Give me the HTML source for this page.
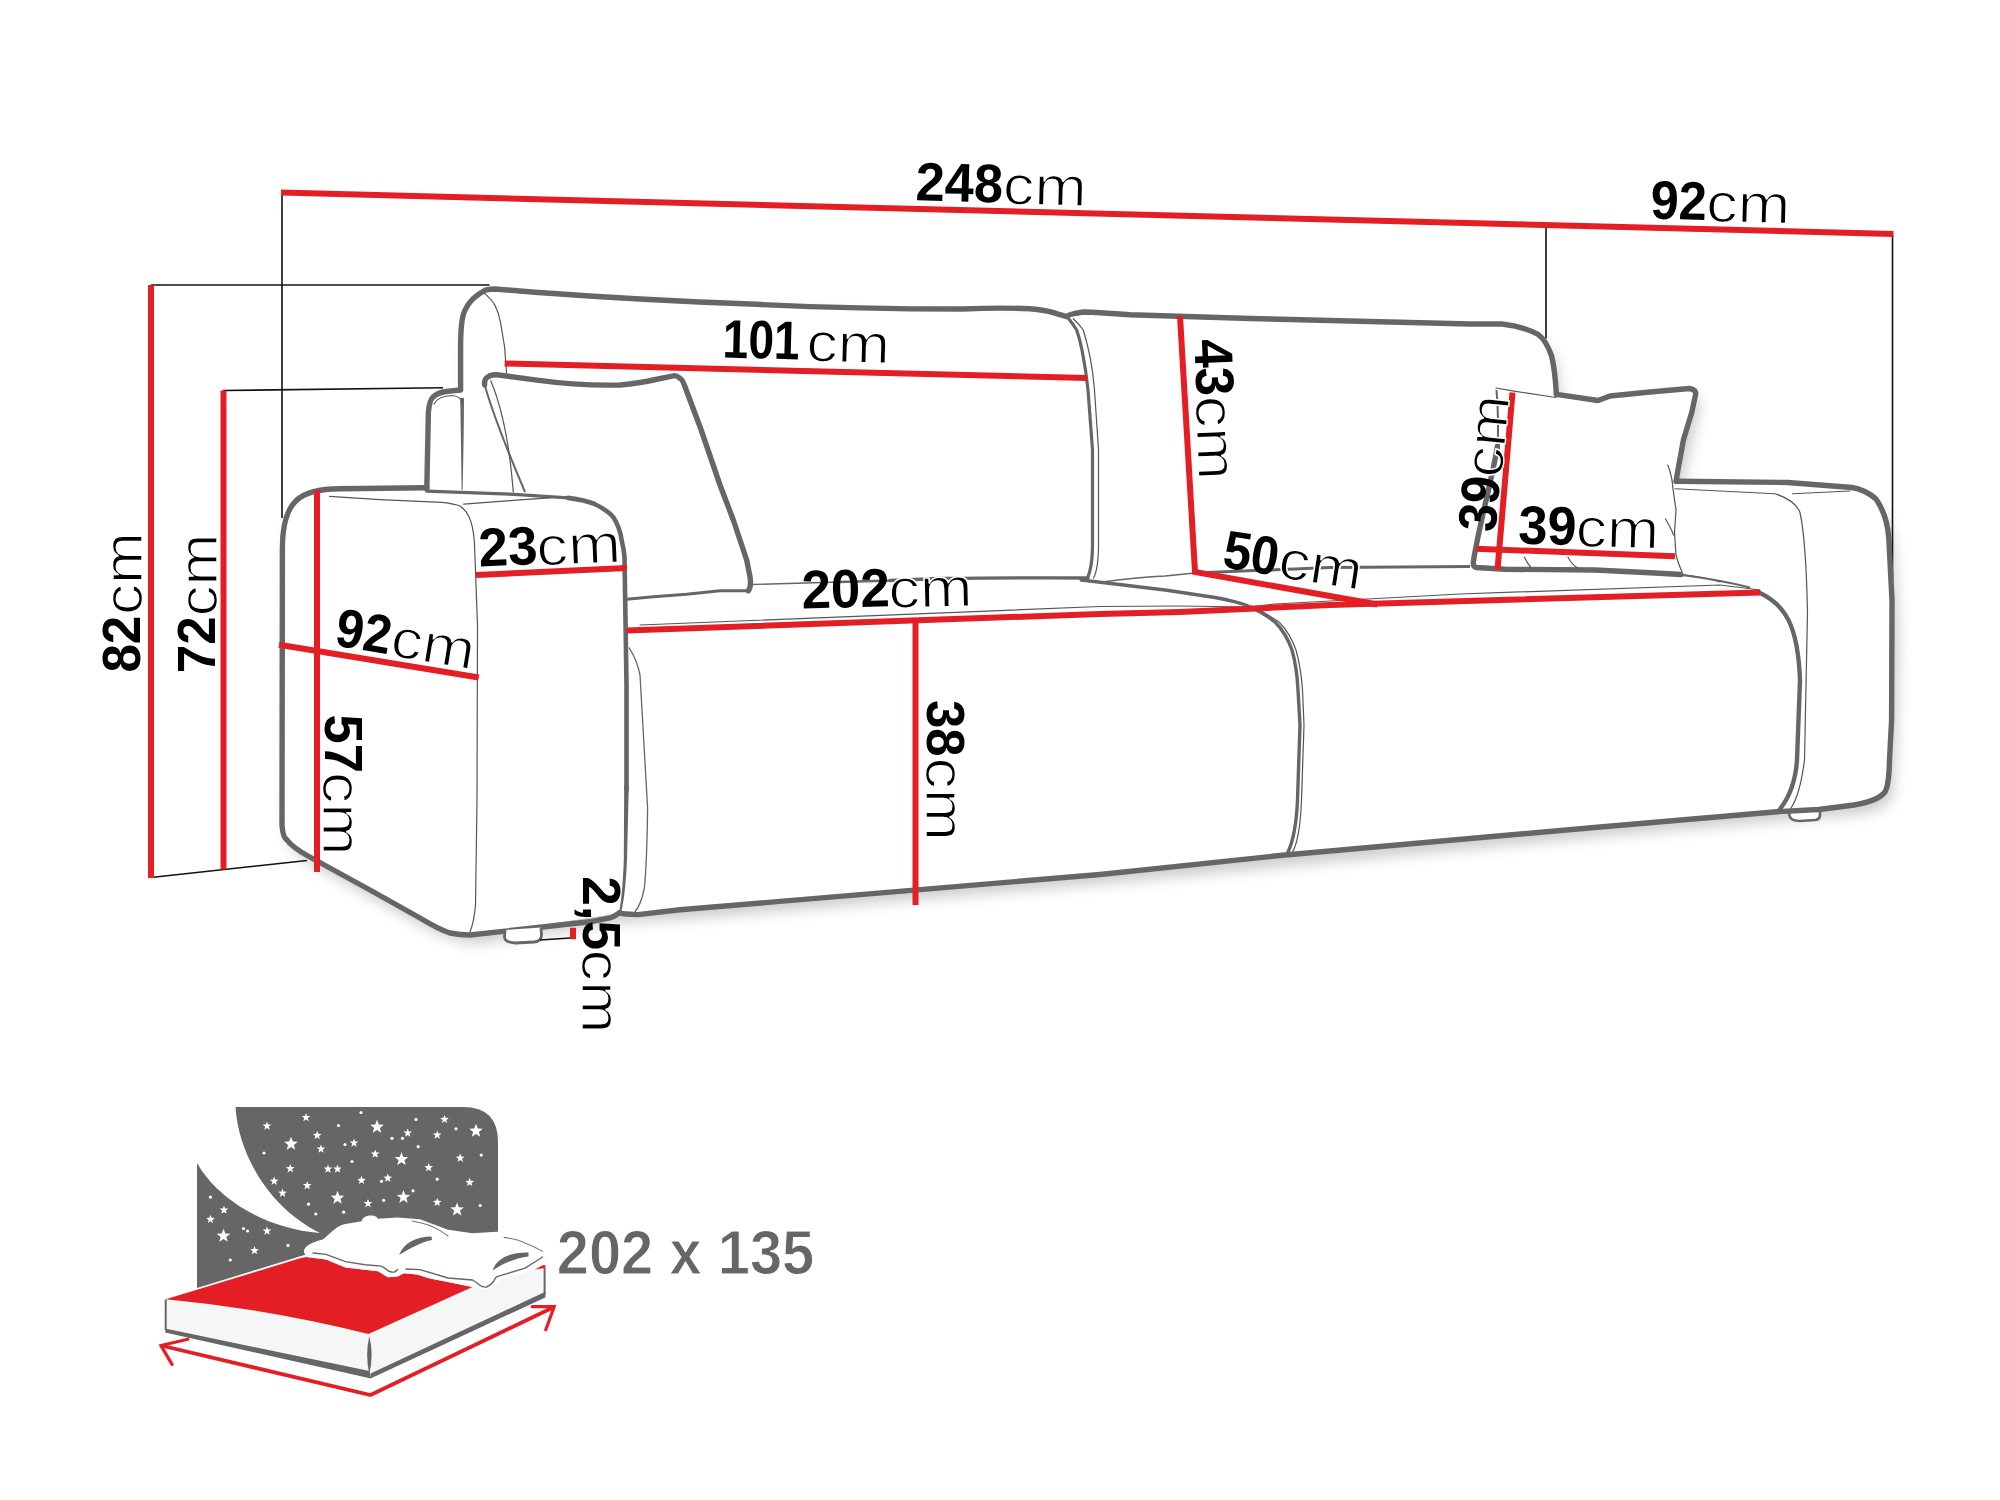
<!DOCTYPE html>
<html><head><meta charset="utf-8">
<style>
html,body{margin:0;padding:0;background:#fff;width:2000px;height:1500px;overflow:hidden}
svg{display:block}
text{font-family:"Liberation Sans",sans-serif}
.g{fill:none;stroke:#666;stroke-width:5.4;stroke-linecap:round;stroke-linejoin:round}
.t{fill:none;stroke:#555;stroke-width:1.2;stroke-linecap:round}
.r{fill:none;stroke:#e31e24;stroke-width:6;stroke-linecap:butt}
.k{fill:none;stroke:#111;stroke-width:1.6}
.b{font-weight:bold;fill:#000}
.n{fill:#000}
.gt{font-weight:bold;fill:#666}
</style></head>
<body>
<svg width="2000" height="1500" viewBox="0 0 2000 1500">
<rect width="2000" height="1500" fill="#fff"/>
<defs>
<filter id="sh" x="-10%" y="-10%" width="120%" height="130%">
<feGaussianBlur in="SourceAlpha" stdDeviation="7"/>
<feOffset dx="5" dy="9" result="o"/>
<feComponentTransfer><feFuncA type="linear" slope="0.2"/></feComponentTransfer>
<feMerge><feMergeNode/><feMergeNode in="SourceGraphic"/></feMerge>
</filter>
</defs>
<path fill="#fff" filter="url(#sh)" d="M282.5,530 Q285,500 340,489 L427,488 L428.4,412 Q430,392 460.6,390 L460.6,347 Q462,295 495,289 L1066,317 L1470,324 L1502,324 Q1545,332 1551.6,356 L1556,394 L1598,400 L1689,388 Q1697,390 1695,395 L1676,481 L1787.5,482.5 L1850,487.5 Q1885,498 1888.75,537.5 L1893.75,625 L1891.6,720 L1889.5,760 Q1889,785 1885,792 Q1878,801 1854,805 L1600,827 L1100,874.5 L680,910 L619,913 L470,935 Q440,930 420,918 L308,856 Q283,840 282.5,825 Z"/>
<!-- black extension lines -->
<path class="k" d="M282,192 V518"/>
<path class="k" d="M151,285 H489.5"/>
<path class="k" d="M223,390.5 L443,387.8"/>
<path class="k" d="M1546,224 V338.5"/>
<path class="k" d="M1892.5,235 V580"/>
<path class="k" d="M151,877.5 L307,860.5"/>

<!-- SOFA -->
<g id="sofa">
<!-- backrest outline -->
<path class="g" d="M426.8,489 L428.4,412 Q429.5,400 433,397 Q438,392.5 446,391.5 L460.6,390 L460.6,347 Q460.6,320 464.6,311 Q470,298 485.4,290.2 Q490,289 495,289 L535,292.2 Q640,300 750,304 Q850,309 962,309 Q1000,307.5 1030,308.7 Q1050,310.5 1060,314.7 L1066.7,316.7 Q1068,314 1083.3,312 Q1100,312.5 1130,314.7 L1250,318.5 L1470,324 L1502,324 Q1522,326 1538,334.4 Q1546,340 1551.6,356 Q1555,370 1556.4,394.4"/>
<path fill="#666" d="M460.2,398 L464,398 Q463.8,440 462.6,490 L461.6,490 Q461,440 460.2,398 Z"/>
<path class="t" d="M434,404 Q438,396 452,395.5 Q460,396 462,402"/>
<path class="t" d="M484.6,293.4 Q492,300 495,305.4 Q499,313 500.6,323 L504.6,347 L506.6,373.4"/>
<!-- left back cushion right edge -->
<path fill="none" stroke="#666" stroke-width="3.2" stroke-linecap="round" d="M1068.7,318.7 Q1073,324 1076.7,330 Q1080,340 1082,350 Q1086,370 1088,390 L1092.5,450 L1092.5,548 Q1092,568 1087.5,578"/>
<path class="t" d="M1073.3,318.7 Q1079,324 1083.3,330 Q1087,342 1090,356.7 Q1093,372 1094.5,390 L1098.5,450 L1098.5,548 Q1098,570 1093.5,578"/>
<!-- left pillow -->
<path class="g" d="M748.3,590.8 Q751.5,587 750,576.7 L746.7,560 L733.3,520 L720,485 L700,426.7 L685,386.7 Q682,379 680,378.3 Q676,375 673.3,375.8 L653.3,380 Q640,383 620,385 Q580,386 535,379.8 L499,375 Q491,374 487,377.5 Q484,380 484.6,385"/>
<path fill="none" stroke="#666" stroke-width="3" stroke-linecap="round" d="M748.3,590.8 L720,590.8 L686.7,594.2 L653.3,596.7 L626.7,599.2"/>
<path fill="none" stroke="#666" stroke-width="2" d="M483.6,381 C490,405 505,445 525,492"/>
<path class="t" d="M490.8,380.8 C503,410 510,450 513.3,492"/>
<path fill="none" stroke="#666" stroke-width="1.4" d="M752,584.5 L840,582"/>
<path fill="none" stroke="#666" stroke-width="2.3" d="M838,582 L892,580.5"/>
<path fill="none" stroke="#666" stroke-width="3.3" stroke-linecap="round" d="M890,580.5 L940,578.5 Q1030,577.5 1088,578"/>
<!-- left armrest -->
<path class="g" d="M426.8,487.8 L340,488.8 C300,489 282,500 282.4,550 L282,825 Q283,838 287,840 Q292,847 308,856 L370,890 L420,918 Q440,930 450,933 Q460,935 470,935 L590,921.8 L611,917.6 Q617,915 619.4,912.8"/>
<path fill="none" stroke="#666" stroke-width="3.2" stroke-linecap="round" d="M426.8,491.2 L514,494.3 L568,497.9"/>
<path fill="none" stroke="#666" stroke-width="4.6" stroke-linecap="round" stroke-linejoin="round" d="M568,497.9 Q585,500 595,504.2 Q607,510 613,516.8 Q620,527 622,542 Q624,550 624.5,557 L626.5,685 L626.5,790"/>
<path fill="#666" d="M624.2,785 L628.8,785 L627,860 Q625.5,895 621,913 L619,912.5 Q622.5,895 623.8,860 Z"/>
<path class="t" d="M329.6,496.4 L380,499.6 L442,502.4 Q455,504 460,506 Q466,510 469,516.8 Q473,525 474.4,542 L477.5,625 L477,800 L475.5,905 Q474,922 470,932"/>
<path class="t" d="M463.6,504.2 L523,499.7 L550,497.9"/>
<!-- seat -->
<path fill="none" stroke="#666" stroke-width="3" d="M1195,573 L1330,567.5 L1470,566.5"/>
<path fill="none" stroke="#666" stroke-width="1.4" d="M1102,582 Q1140,577 1165,576 L1195,573"/>
<path fill="none" stroke="#666" stroke-width="1.3" d="M629,647.5 Q637,660 640,675 L647.6,808 Q647,860 644.4,888 Q641,905 634.8,912"/>
<path fill="none" stroke="#666" stroke-width="3.4" stroke-linecap="round" d="M1081.3,580 L1102.5,582.5 L1165,590 L1215,597.5 Q1232,600.5 1246,605 Q1262,612 1275,622 Q1286,633 1292,650 Q1297,668 1298,690 L1300,725 L1297.5,800 Q1296,835 1288,852"/>
<path class="t" d="M1252,606 Q1266,613 1279,622 Q1290,633 1296,650 Q1301,668 1302.5,690 L1304,725 L1301.5,800 Q1300,840 1292,853"/>
<path class="t" d="M640,625 L1100,606.5 L1180,606 L1250,607 L1275,604 L1460,594 L1720,585 L1760,590"/>
<path class="t" d="M1682,574.5 Q1705,577 1720,582"/>
<!-- feet -->
<path fill="#fff" stroke="#666" stroke-width="2.8" d="M505,930 L504.5,937.5 Q505.5,942.5 515,943 L534,942 Q541.5,941.5 541.5,935 L541,927.5"/>
<path fill="#fff" stroke="#666" stroke-width="2.6" d="M1789,811 L1789.5,816 Q1791,821 1800,821 L1815,820 Q1820,819.5 1820,815 L1820,809.5"/>
<path class="k" d="M540,940 L570,938"/>
<!-- seat bottom + right arm -->
<path class="g" d="M619.4,912.8 Q623,914 626,914 L638,914.6 L680,909.8 L1100,874.5 L1285,855 L1600,827 L1777,811.7 L1818.8,809.5 L1854,805 Q1878,801 1885,792 Q1889,785 1889.5,760 L1891.6,720 L1892,600 L1888.75,537.5 Q1887,515 1876,499 Q1866,490 1852,487.5 L1787.5,482.5 L1677.5,481.25"/>
<!-- right cushion front edge -->
<path fill="none" stroke="#666" stroke-width="2" d="M1682,575 Q1720,580 1750,587.5"/>
<path class="g" d="M1758,592 C1785,604 1798,625 1800,680 L1797,760 Q1795,790 1780,809" style="stroke-width:4.4"/>
<path class="t" d="M1675,488.75 L1775,493.75 Q1795,500 1800,512.5 Q1806,540 1807.5,612.5 L1804.5,760 Q1800,795 1791,808"/>
<path class="t" d="M1792.5,493.75 L1850,491"/>
<!-- right pillow -->
<path class="g" d="M1556.4,394.4 L1598,400.5 L1610,396 L1647.5,392.25 L1689.5,388.5 Q1697,390 1695.5,395 L1691.75,412.5 L1683.5,439.5 L1677.5,472.5 L1676,481.5"/>
<path class="g" d="M1681,574.5 L1655,573 L1595,570 L1505,569.25 L1476,567.5 Q1472.5,566 1473.5,561 C1478,530 1492,480 1497.5,446"/>
<path fill="none" stroke="#666" stroke-width="2" d="M1497.5,446 Q1499,420 1496.5,390"/>
<path class="t" d="M1496,388 L1514,391.2 L1556,397.5"/>
<path class="t" d="M1667.75,465 Q1672,475 1673,489 L1676,510 L1674.5,532.5 L1676,555 Q1679,566 1682,571.5"/>
<path class="t" d="M1665.5,519 Q1672,530 1673.5,535"/>
<path class="t" d="M1524.5,557.25 Q1527,563 1530.5,567"/>
<path class="t" d="M1568,557.25 Q1572,565 1578.5,568.5"/>
</g>

<!-- RED dimension lines -->
<path class="r" d="M281,192.6 L1893.5,234"/>
<path class="r" d="M151,285 V878"/>
<path class="r" d="M223.5,390.5 V869.5"/>
<path class="r" d="M317,490 V872"/>
<path class="r" d="M504.6,363.5 L1087.3,378"/>
<path class="r" d="M1180,316 L1195,572 L1377.5,604.5"/>
<path class="r" d="M476,575 L626.8,568"/>
<path class="r" d="M279,644.75 L478.75,677.5"/>
<path class="r" d="M626.5,630.5 L1100,614 L1180,612 L1330,605 L1760,592.5"/>
<path class="r" d="M915.5,622.5 V905"/>
<path class="r" d="M1512.5,392.5 L1497.5,570"/>
<path class="r" d="M1476,548.75 L1675,556.25"/>
<path class="r" d="M573,927.8 V939.2" style="stroke-width:6"/>

<!-- TEXT -->
<g transform="translate(917.03,200.20) rotate(1.5)"><text x="-1.82" y="0" font-size="54.3" textLength="87.43" lengthAdjust="spacingAndGlyphs" class="b">248</text><text x="85.63" y="0" font-size="55.0" textLength="83.71" lengthAdjust="spacingAndGlyphs" class="n" stroke="#fff" stroke-width="1.4" transform="translate(0,1.5)">cm</text></g>
<g transform="translate(1652.03,218.50) rotate(1.5)"><text x="-1.75" y="0" font-size="54.3" textLength="56.17" lengthAdjust="spacingAndGlyphs" class="b">92</text><text x="53.82" y="0" font-size="55.0" textLength="84.25" lengthAdjust="spacingAndGlyphs" class="n" stroke="#fff" stroke-width="1.4" transform="translate(0,1.5)">cm</text></g>
<g transform="translate(725.23,357.50) rotate(1.5)"><text x="-2.90" y="0" font-size="54.3" textLength="76.89" lengthAdjust="spacingAndGlyphs" class="b">101</text><text x="80.73" y="0" font-size="55.0" textLength="83.71" lengthAdjust="spacingAndGlyphs" class="n" stroke="#fff" stroke-width="1.4" transform="translate(0,1.5)">cm</text></g>
<g transform="translate(1194.40,340.40) rotate(87.6)"><text x="-0.78" y="0" font-size="54.3" textLength="57.03" lengthAdjust="spacingAndGlyphs" class="b">43</text><text x="56.12" y="0" font-size="55.0" textLength="84.25" lengthAdjust="spacingAndGlyphs" class="n" stroke="#fff" stroke-width="1.4" transform="translate(0,1.5)">cm</text></g>
<g transform="translate(481.16,566.50) rotate(-2.4)"><text x="-1.84" y="0" font-size="54.3" textLength="58.95" lengthAdjust="spacingAndGlyphs" class="b">23</text><text x="55.80" y="0" font-size="55.0" textLength="84.69" lengthAdjust="spacingAndGlyphs" class="n" stroke="#fff" stroke-width="1.4" transform="translate(0,1.5)">cm</text></g>
<g transform="translate(335.16,645.51) rotate(9.3)"><text x="-1.74" y="0" font-size="54.3" textLength="55.74" lengthAdjust="spacingAndGlyphs" class="b">92</text><text x="54.62" y="0" font-size="55.0" textLength="84.25" lengthAdjust="spacingAndGlyphs" class="n" stroke="#fff" stroke-width="1.4" transform="translate(0,1.5)">cm</text></g>
<g transform="translate(803.78,608.40) rotate(-1.3)"><text x="-1.83" y="0" font-size="54.3" textLength="88.04" lengthAdjust="spacingAndGlyphs" class="b">202</text><text x="84.92" y="0" font-size="55.0" textLength="84.25" lengthAdjust="spacingAndGlyphs" class="n" stroke="#fff" stroke-width="1.4" transform="translate(0,1.5)">cm</text></g>
<g transform="translate(1222.65,567.41) rotate(8.7)"><text x="-1.54" y="0" font-size="54.3" textLength="55.59" lengthAdjust="spacingAndGlyphs" class="b">50</text><text x="54.82" y="0" font-size="55.0" textLength="84.25" lengthAdjust="spacingAndGlyphs" class="n" stroke="#fff" stroke-width="1.4" transform="translate(0,1.5)">cm</text></g>
<g transform="translate(1519.13,543.50) rotate(1.5)"><text x="-1.20" y="0" font-size="54.3" textLength="58.14" lengthAdjust="spacingAndGlyphs" class="b">39</text><text x="56.14" y="0" font-size="55.0" textLength="83.60" lengthAdjust="spacingAndGlyphs" class="n" stroke="#fff" stroke-width="1.4" transform="translate(0,1.5)">cm</text></g>
<g transform="translate(1495.30,531.70) rotate(-84.6)"><text x="-1.14" y="0" font-size="54.3" textLength="55.18" lengthAdjust="spacingAndGlyphs" class="b">39</text><text x="53.38" y="0" font-size="55.0" textLength="82.29" lengthAdjust="spacingAndGlyphs" class="n" stroke="#fff" stroke-width="1.4" transform="translate(0,1.5)">cm</text></g>
<g transform="translate(140.25,671.00) rotate(-90)"><text x="-1.62" y="0" font-size="54.3" textLength="56.92" lengthAdjust="spacingAndGlyphs" class="b">82</text><text x="55.90" y="0" font-size="55.0" textLength="83.16" lengthAdjust="spacingAndGlyphs" class="n" stroke="#fff" stroke-width="1.4" transform="translate(0,1.5)">cm</text></g>
<g transform="translate(215.25,671.00) rotate(-90)"><text x="-2.19" y="0" font-size="54.3" textLength="56.73" lengthAdjust="spacingAndGlyphs" class="b">72</text><text x="54.40" y="0" font-size="55.0" textLength="83.16" lengthAdjust="spacingAndGlyphs" class="n" stroke="#fff" stroke-width="1.4" transform="translate(0,1.5)">cm</text></g>
<g transform="translate(324.70,715.90) rotate(90)"><text x="-1.63" y="0" font-size="54.3" textLength="58.85" lengthAdjust="spacingAndGlyphs" class="b">57</text><text x="56.14" y="0" font-size="55.0" textLength="83.49" lengthAdjust="spacingAndGlyphs" class="n" stroke="#fff" stroke-width="1.4" transform="translate(0,1.5)">cm</text></g>
<g transform="translate(927.20,701.20) rotate(90)"><text x="-1.17" y="0" font-size="54.3" textLength="56.63" lengthAdjust="spacingAndGlyphs" class="b">38</text><text x="56.34" y="0" font-size="55.0" textLength="83.38" lengthAdjust="spacingAndGlyphs" class="n" stroke="#fff" stroke-width="1.4" transform="translate(0,1.5)">cm</text></g>
<g transform="translate(583.40,878.00) rotate(90)"><text x="-1.84" y="0" font-size="54.3" textLength="73.82" lengthAdjust="spacingAndGlyphs" class="b">2,5</text><text x="71.63" y="0" font-size="55.0" textLength="83.82" lengthAdjust="spacingAndGlyphs" class="n" stroke="#fff" stroke-width="1.4" transform="translate(0,1.5)">cm</text></g>
<!-- BED ICON -->
<g id="bed">
<path fill="#666" d="M197,1107 L463,1107 Q498,1107 498,1142 L498,1300 L197,1300 Z"/>
<path fill="#fff" d="M190,1095 L235.5,1095 L235.5,1107 C238,1150 265,1205 320,1233 C260,1228 215,1195 197,1163 L190,1163 Z"/>
<path fill="#fff" d="M291.0,1136.8 L292.8,1141.6 L297.8,1141.8 L293.9,1144.9 L295.2,1149.8 L291.0,1147.0 L286.8,1149.8 L288.1,1144.9 L284.2,1141.8 L289.2,1141.6Z M337.5,1190.8 L339.3,1195.6 L344.3,1195.8 L340.4,1198.9 L341.7,1203.8 L337.5,1201.0 L333.3,1203.8 L334.6,1198.9 L330.7,1195.8 L335.7,1195.6Z M223.5,1228.8 L225.3,1233.6 L230.3,1233.8 L226.4,1236.9 L227.7,1241.8 L223.5,1239.0 L219.3,1241.8 L220.6,1236.9 L216.7,1233.8 L221.7,1233.6Z M377.0,1119.8 L378.8,1124.6 L383.8,1124.8 L379.9,1127.9 L381.2,1132.8 L377.0,1130.0 L372.8,1132.8 L374.1,1127.9 L370.2,1124.8 L375.2,1124.6Z M476.0,1123.8 L477.8,1128.6 L482.8,1128.8 L478.9,1131.9 L480.2,1136.8 L476.0,1134.0 L471.8,1136.8 L473.1,1131.9 L469.2,1128.8 L474.2,1128.6Z M401.5,1152.1 L403.3,1156.9 L408.3,1157.1 L404.4,1160.2 L405.7,1165.1 L401.5,1162.3 L397.3,1165.1 L398.6,1160.2 L394.7,1157.1 L399.7,1156.9Z M403.5,1189.9 L405.3,1194.7 L410.3,1194.9 L406.4,1198.0 L407.7,1202.9 L403.5,1200.1 L399.3,1202.9 L400.6,1198.0 L396.7,1194.9 L401.7,1194.7Z M457.1,1202.5 L458.9,1207.3 L463.9,1207.5 L460.0,1210.6 L461.3,1215.5 L457.1,1212.7 L452.9,1215.5 L454.2,1210.6 L450.3,1207.5 L455.3,1207.3Z M267.0,1121.4 L268.1,1124.4 L271.4,1124.6 L268.8,1126.6 L269.7,1129.7 L267.0,1127.9 L264.3,1129.7 L265.2,1126.6 L262.6,1124.6 L265.9,1124.4Z M306.0,1112.9 L307.1,1115.9 L310.4,1116.1 L307.8,1118.1 L308.7,1121.2 L306.0,1119.4 L303.3,1121.2 L304.2,1118.1 L301.6,1116.1 L304.9,1115.9Z M317.2,1130.7 L318.3,1133.7 L321.6,1133.9 L319.0,1135.9 L319.9,1139.0 L317.2,1137.2 L314.5,1139.0 L315.4,1135.9 L312.8,1133.9 L316.1,1133.7Z M321.0,1144.4 L322.1,1147.4 L325.4,1147.6 L322.8,1149.6 L323.7,1152.7 L321.0,1150.9 L318.3,1152.7 L319.2,1149.6 L316.6,1147.6 L319.9,1147.4Z M354.0,1138.4 L355.1,1141.4 L358.4,1141.6 L355.8,1143.6 L356.7,1146.7 L354.0,1144.9 L351.3,1146.7 L352.2,1143.6 L349.6,1141.6 L352.9,1141.4Z M375.2,1149.4 L376.3,1152.4 L379.6,1152.6 L377.0,1154.6 L377.9,1157.7 L375.2,1155.9 L372.5,1157.7 L373.4,1154.6 L370.8,1152.6 L374.1,1152.4Z M290.2,1164.1 L291.3,1167.1 L294.6,1167.3 L292.0,1169.3 L292.9,1172.4 L290.2,1170.6 L287.5,1172.4 L288.4,1169.3 L285.8,1167.3 L289.1,1167.1Z M328.0,1164.4 L329.1,1167.4 L332.4,1167.6 L329.8,1169.6 L330.7,1172.7 L328.0,1170.9 L325.3,1172.7 L326.2,1169.6 L323.6,1167.6 L326.9,1167.4Z M337.5,1164.4 L338.6,1167.4 L341.9,1167.6 L339.3,1169.6 L340.2,1172.7 L337.5,1170.9 L334.8,1172.7 L335.7,1169.6 L333.1,1167.6 L336.4,1167.4Z M361.5,1175.7 L362.6,1178.7 L365.9,1178.9 L363.3,1180.9 L364.2,1184.0 L361.5,1182.2 L358.8,1184.0 L359.7,1180.9 L357.1,1178.9 L360.4,1178.7Z M274.2,1176.6 L275.3,1179.6 L278.6,1179.8 L276.0,1181.8 L276.9,1184.9 L274.2,1183.1 L271.5,1184.9 L272.4,1181.8 L269.8,1179.8 L273.1,1179.6Z M307.2,1180.9 L308.3,1183.9 L311.6,1184.1 L309.0,1186.1 L309.9,1189.2 L307.2,1187.4 L304.5,1189.2 L305.4,1186.1 L302.8,1184.1 L306.1,1183.9Z M282.5,1188.6 L283.6,1191.6 L286.9,1191.8 L284.3,1193.8 L285.2,1196.9 L282.5,1195.1 L279.8,1196.9 L280.7,1193.8 L278.1,1191.8 L281.4,1191.6Z M368.0,1198.9 L369.1,1201.9 L372.4,1202.1 L369.8,1204.1 L370.7,1207.2 L368.0,1205.4 L365.3,1207.2 L366.2,1204.1 L363.6,1202.1 L366.9,1201.9Z M224.0,1205.4 L225.1,1208.4 L228.4,1208.6 L225.8,1210.6 L226.7,1213.7 L224.0,1211.9 L221.3,1213.7 L222.2,1210.6 L219.6,1208.6 L222.9,1208.4Z M210.5,1214.7 L211.6,1217.7 L214.9,1217.9 L212.3,1219.9 L213.2,1223.0 L210.5,1221.2 L207.8,1223.0 L208.7,1219.9 L206.1,1217.9 L209.4,1217.7Z M267.0,1226.4 L268.1,1229.4 L271.4,1229.6 L268.8,1231.6 L269.7,1234.7 L267.0,1232.9 L264.3,1234.7 L265.2,1231.6 L262.6,1229.6 L265.9,1229.4Z M407.7,1128.4 L408.8,1131.4 L412.1,1131.6 L409.5,1133.6 L410.4,1136.7 L407.7,1134.9 L405.0,1136.7 L405.9,1133.6 L403.3,1131.6 L406.6,1131.4Z M444.5,1114.8 L445.6,1117.8 L448.9,1118.0 L446.3,1120.0 L447.2,1123.1 L444.5,1121.3 L441.8,1123.1 L442.7,1120.0 L440.1,1118.0 L443.4,1117.8Z M437.2,1130.4 L438.3,1133.4 L441.6,1133.6 L439.0,1135.6 L439.9,1138.7 L437.2,1136.9 L434.5,1138.7 L435.4,1135.6 L432.8,1133.6 L436.1,1133.4Z M460.2,1153.6 L461.3,1156.6 L464.6,1156.8 L462.0,1158.8 L462.9,1161.9 L460.2,1160.1 L457.5,1161.9 L458.4,1158.8 L455.8,1156.8 L459.1,1156.6Z M428.7,1163.1 L429.8,1166.1 L433.1,1166.3 L430.5,1168.3 L431.4,1171.4 L428.7,1169.6 L426.0,1171.4 L426.9,1168.3 L424.3,1166.3 L427.6,1166.1Z M387.8,1173.6 L388.9,1176.6 L392.2,1176.8 L389.6,1178.8 L390.5,1181.9 L387.8,1180.1 L385.1,1181.9 L386.0,1178.8 L383.4,1176.8 L386.7,1176.6Z M469.7,1177.8 L470.8,1180.8 L474.1,1181.0 L471.5,1183.0 L472.4,1186.1 L469.7,1184.3 L467.0,1186.1 L467.9,1183.0 L465.3,1181.0 L468.6,1180.8Z M437.2,1197.7 L438.3,1200.7 L441.6,1200.9 L439.0,1202.9 L439.9,1206.0 L437.2,1204.2 L434.5,1206.0 L435.4,1202.9 L432.8,1200.9 L436.1,1200.7Z M254.5,1246.0 L255.6,1249.0 L258.9,1249.2 L256.3,1251.2 L257.2,1254.3 L254.5,1252.5 L251.8,1254.3 L252.7,1251.2 L250.1,1249.2 L253.4,1249.0Z"/>
<g fill="#fff"><circle cx="361" cy="1112.5" r="1.6"/><circle cx="338.5" cy="1125.5" r="1.6"/><circle cx="345" cy="1144.5" r="1.6"/><circle cx="264" cy="1153" r="1.6"/><circle cx="352" cy="1161.5" r="1.6"/><circle cx="308.5" cy="1204.2" r="1.6"/><circle cx="315.8" cy="1214" r="1.6"/><circle cx="343.6" cy="1212.2" r="1.6"/><circle cx="210.4" cy="1197.1" r="1.6"/><circle cx="243.5" cy="1228.5" r="1.6"/><circle cx="247.6" cy="1231" r="1.6"/><circle cx="392" cy="1138.3" r="1.6"/><circle cx="402.5" cy="1138.3" r="1.6"/><circle cx="416" cy="1119.4" r="1.6"/><circle cx="456" cy="1128.8" r="1.6"/><circle cx="418.2" cy="1146.7" r="1.6"/><circle cx="481.2" cy="1155.1" r="1.6"/><circle cx="381.5" cy="1181.3" r="1.6"/><circle cx="437.2" cy="1179.2" r="1.6"/><circle cx="413" cy="1190.8" r="1.6"/><circle cx="383.6" cy="1200.3" r="1.6"/><circle cx="480.2" cy="1205.5" r="1.6"/><circle cx="288" cy="1245.4" r="1.6"/><circle cx="230.3" cy="1260" r="1.6"/></g>

<!-- mattress -->
<path fill="#fff" d="M158,1300 L306,1254.5 L550,1250 L550,1300 L372,1380 L158,1335 Z"/>
<path fill="#f5f6f6" d="M165.7,1299.3 L306,1257.5 L548,1256 L544.8,1267.8 L544.8,1295 L370.5,1374 L165.7,1330 Z"/>
<path fill="#e41e25" d="M165.7,1299.3 L300,1258.3 L306.5,1257 L326,1259.6 L345.5,1267.4 L378,1271.3 L387.8,1277.2 L397.5,1276.5 L404,1273.3 L417,1274.6 L430,1278.5 L448,1282 L472.5,1287 L368.4,1334 Q267,1308.75 165.7,1299.3 Z"/>
<path fill="#e41e25" d="M534.8,1269.6 L540.4,1264.7 L546,1265.4 L544.8,1268 Z"/>
<path fill="none" stroke="#666" stroke-width="2" d="M165.7,1299.5 L165.7,1330"/>
<path fill="#666" d="M165.2,1328.5 L369.4,1371 L371,1378.4 L165.2,1332.5 Z"/>
<path fill="#666" d="M370.5,1373.5 L545.3,1291.8 L545.3,1297.4 L370.5,1378.4 Z"/>
<path fill="none" stroke="#666" stroke-width="2" d="M544.6,1267.5 L544.6,1295"/>
<path fill="#666" d="M369.3,1336 Q365,1355 369.3,1374 Q374,1355 369.3,1336 Z"/>
<!-- pillows -->
<path fill="#fff" d="M303.9,1252 C304,1246 312,1242 322.8,1239.5 C327,1236 330,1233 332.5,1231 C338,1226 342,1224.5 345.5,1223.9 L361.8,1221.3 C362,1217 367,1215.4 371.5,1215.4 C375,1215.4 377,1217 378,1218.7 L397.5,1217.4 L420,1219.2 L448,1229.7 L472.5,1233.2 L497,1231.8 L525,1240 L546,1250 L548,1254 L545,1258 L544.8,1264 L534,1270 L500,1279 L490,1289 L482,1289 L472.5,1287 L448,1282 L430,1278.5 L417,1274.6 L404,1273.3 L397.5,1276.5 L387.8,1277.2 L378,1271.3 L345.5,1267.4 L326,1259.6 L306.5,1257 Z"/>
<path fill="none" stroke="#666" stroke-width="1.4" stroke-linecap="round" d="M313,1253 L326,1254.4 L345.5,1261.6 L365,1264.8 L381.3,1266.1 Q385,1268 387.8,1270.7 Q391,1272.5 394.3,1272 Q396.5,1271 397.5,1269.4"/>
<path fill="none" stroke="#666" stroke-width="1.4" stroke-linecap="round" d="M406,1269 L420,1269.6 L448,1278 L472.5,1280 Q476,1282 479.5,1285 Q483,1287.5 486.5,1287 Q491,1285 493.5,1281.5 Q495,1278 497,1276.6 L525,1268.2 Q535,1262 542.5,1257"/>
<path fill="none" stroke="#777" stroke-width="1.1" stroke-linecap="round" d="M412,1221 Q430,1224 441,1231.1 Q445,1234 448,1236 M504,1237.4 Q517,1239 525,1243 Q535,1247 542.5,1251.4"/>
<path fill="#666" d="M399,1255 C404,1243 416,1236.5 431.5,1236.5 L432,1240 C420,1242.5 409,1249 399,1255 Z"/>
<path fill="#666" d="M492.5,1270.5 C497,1258 511,1252 528.5,1252.5 L528.5,1256.5 C515,1258 502,1264 492.5,1270.5 Z"/>
<!-- arrows -->
<path fill="none" stroke="#e41e25" stroke-width="3.8" stroke-linejoin="miter" d="M161,1345.5 L370.5,1395 L554,1307"/>
<path fill="none" stroke="#e41e25" stroke-width="3.2" stroke-linecap="round" d="M187.8,1339.2 L161,1345.5 L172,1364.4 M532.2,1306.7 L554.2,1306.7 L545.8,1329.8"/>
</g>

<g transform="translate(0,1273.5)"><text x="556.69" y="0" font-size="62.13768630234209" textLength="257.62" lengthAdjust="spacingAndGlyphs" class="gt" stroke="#fff" stroke-width="1">202 x 135</text></g>
</svg>
</body></html>
